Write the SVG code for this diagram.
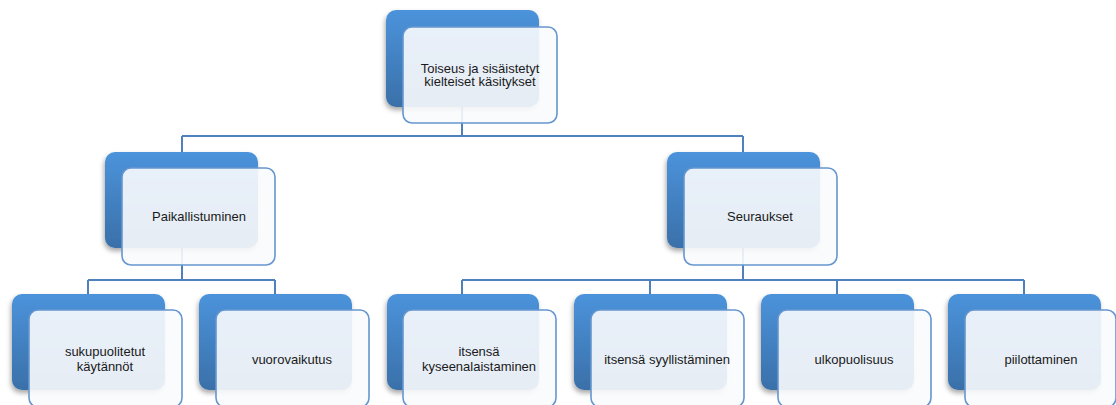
<svg xmlns="http://www.w3.org/2000/svg" width="1116" height="405" viewBox="0 0 1116 405">
<defs>
<linearGradient id="blueGrad" x1="0" y1="0" x2="0" y2="1">
<stop offset="0" stop-color="#4b93db"/>
<stop offset="1" stop-color="#3a70a9"/>
</linearGradient>
<filter id="shadow" x="-10%" y="-10%" width="125%" height="125%">
<feDropShadow dx="-1" dy="3" stdDeviation="2.5" flood-color="#000" flood-opacity="0.35"/>
</filter>
<style>
.back{fill:url(#blueGrad);filter:url(#shadow);}
.front{fill:#fafbfd;fill-opacity:0.9;stroke:#6596cf;stroke-width:1.6;}
.conn{fill:none;stroke:#4f81bd;stroke-width:2;}
.lbl{font-family:"Liberation Sans",Arial,sans-serif;font-size:13px;fill:#1a1a1a;text-anchor:middle;}
</style>
</defs>
<g id="connectors">
<path class="conn" d="M462,60 V136 M182,136 H743 M182,136 V160 M743,136 V160"/>
<path class="conn" d="M182,200 V280 M88,280 H275 M88,280 V300 M275,280 V300"/>
<path class="conn" d="M743,200 V280 M462,280 H1024 M462,280 V300 M650,280 V300 M837,280 V300 M1024,280 V300"/>
</g>
<g id="n-root">
<rect class="back" x="386" y="10" width="153" height="97" rx="10"/>
<rect class="front" x="403" y="27" width="154" height="96" rx="9"/>
<text class="lbl" x="480" y="73">Toiseus ja sisäistetyt</text>
<text class="lbl" x="480" y="86">kielteiset käsitykset</text>
</g>
<g id="n-paikallistuminen">
<rect class="back" x="105" y="152" width="153" height="96" rx="10"/>
<rect class="front" x="122" y="168" width="153" height="97" rx="9"/>
<text class="lbl" x="199" y="221">Paikallistuminen</text>
</g>
<g id="n-seuraukset">
<rect class="back" x="667" y="152" width="153" height="96" rx="10"/>
<rect class="front" x="684" y="168" width="153" height="97" rx="9"/>
<text class="lbl" x="760" y="221">Seuraukset</text>
</g>
<g id="n-sukupuolitetut">
<rect class="back" x="12" y="294" width="153" height="96" rx="10"/>
<rect class="front" x="29" y="310" width="153" height="97" rx="9"/>
<text class="lbl" x="105" y="356">sukupuolitetut</text>
<text class="lbl" x="105" y="371">käytännöt</text>
</g>
<g id="n-vuorovaikutus">
<rect class="back" x="199" y="294" width="153" height="96" rx="10"/>
<rect class="front" x="216" y="310" width="153" height="97" rx="9"/>
<text class="lbl" x="292" y="364">vuorovaikutus</text>
</g>
<g id="n-kyseenalaistaminen">
<rect class="back" x="387" y="294" width="152" height="96" rx="10"/>
<rect class="front" x="403" y="310" width="153" height="97" rx="9"/>
<text class="lbl" x="479" y="356">itsensä</text>
<text class="lbl" x="479" y="371">kyseenalaistaminen</text>
</g>
<g id="n-syyllistaminen">
<rect class="back" x="574" y="294" width="153" height="96" rx="10"/>
<rect class="front" x="591" y="310" width="153" height="97" rx="9"/>
<text class="lbl" x="667" y="364">itsensä syyllistäminen</text>
</g>
<g id="n-ulkopuolisuus">
<rect class="back" x="761" y="294" width="153" height="96" rx="10"/>
<rect class="front" x="778" y="310" width="153" height="97" rx="9"/>
<text class="lbl" x="854" y="364">ulkopuolisuus</text>
</g>
<g id="n-piilottaminen">
<rect class="back" x="948" y="294" width="153" height="96" rx="10"/>
<rect class="front" x="965" y="310" width="151" height="97" rx="9"/>
<text class="lbl" x="1041" y="364">piilottaminen</text>
</g>
</svg>
